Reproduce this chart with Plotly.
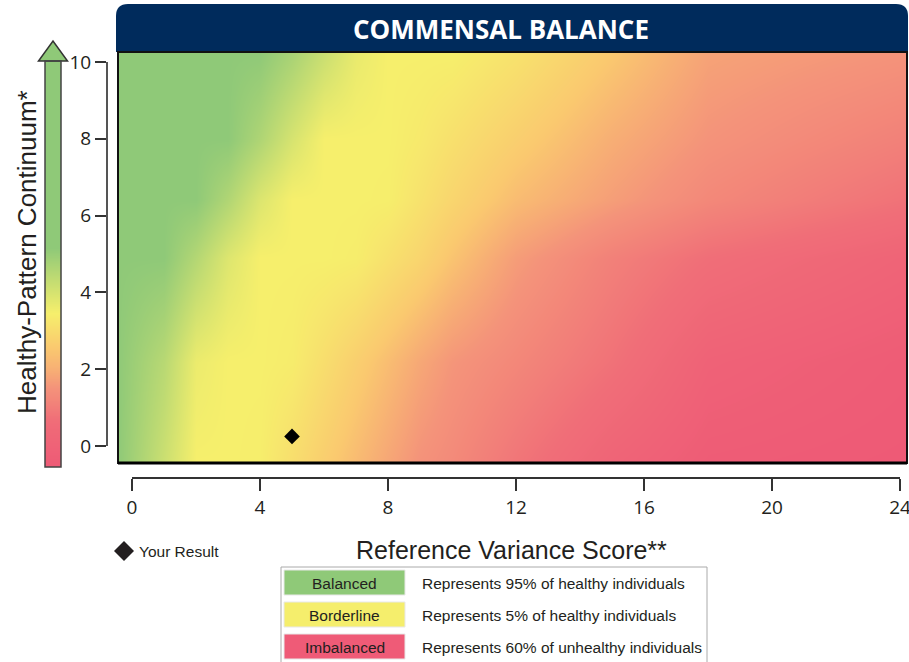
import plotly.graph_objects as go

# ---------------- data ----------------
# colour level of the background: 0 green, 1 yellow, 2 orange, 3 salmon, 4-5 pink
x_nodes = [-0.44, 1, 2, 3, 4, 5, 6, 7, 8, 9, 10, 12, 15, 18, 21, 24.2]
y_nodes = [-0.44, 2.2, 4.9, 6.4, 8.0, 10.26]
level_y_m044 = [0, 0.59, 1.0, 1.0, 1.04, 1.46, 1.88, 2.27, 2.65, 3.03, 3.25, 3.8, 4.5, 4.9, 4.95, 5.0]
level_y_22 = [0, 0.4, 0.9, 1.0, 1.0, 1.08, 1.46, 1.85, 2.23, 2.62, 2.95, 3.32, 3.9, 4.6, 4.75, 4.9]
level_y_49 = [0, 0, 0.36, 0.76, 1.0, 1.0, 1.0, 1.06, 1.38, 1.69, 2.1, 2.82, 3.5, 4.0, 4.25, 4.5]
level_y_64 = [0, 0, 0, 0.33, 0.75, 1.0, 1.0, 1.0, 1.03, 1.35, 1.68, 2.25, 2.8, 3.3, 3.6, 3.9]
level_y_80 = [0, 0, 0, 0, 0.31, 0.69, 1.0, 1.0, 1.0, 1.15, 1.4, 1.85, 2.5, 3.0, 3.25, 3.5]
level_y_1026 = [0, 0, 0, 0, 0, 0.24, 0.56, 0.87, 1.0, 1.0, 1.0, 1.33, 2.0, 2.7, 2.85, 3.0]

# gradient inside the vertical arrow (fraction of shaft height from bottom)
arrow_pos = [0, 0.1, 0.17, 0.24, 0.295, 0.38, 0.46, 0.54, 1.0]
arrow_level = [5, 4.2, 3.3, 2.5, 2.0, 1.0, 0.5, 0.0, 0.0]

result_x = [5]
result_y = [0.25]

x_ticks = [0, 4, 8, 12, 16, 20, 24]
y_ticks = [0, 2, 4, 6, 8, 10]

legend_labels = ["Balanced", "Borderline", "Imbalanced"]
legend_descriptions = [
    "Represents 95% of healthy individuals",
    "Represents 5% of healthy individuals",
    "Represents 60% of unhealthy individuals",
]

title_text = "COMMENSAL BALANCE"
x_title = "Reference Variance Score**"
y_title = "Healthy-Pattern Continuum*"
result_label = "Your Result"

# ---------------- styles / layout ----------------
W, H = 909, 662
GREEN, YELLOW, PINK = "#8FC978", "#F5EE6C", "#EF5B77"
legend_colors = [GREEN, YELLOW, PINK]
colorscale = [
    [0.0, GREEN], [0.2, "#F6EF6C"], [0.4, "#FAC96F"],
    [0.6, "#F4937A"], [0.8, "#F06E78"], [1.0, "#EE5A76"],
]


def px(x):
    return x / W


def py(y):
    return 1 - y / H


# pixel geometry
X0_PX, UNIT_X = 132.0, 32.0      # x=0 at 132 px, 32 px per unit
Y0_PX, UNIT_Y = 446.0, 38.4      # y=0 at 446 px, 38.4 px per unit
HM_L, HM_R, HM_T, HM_B = 118, 907, 52, 463

z = [level_y_m044, level_y_22, level_y_49, level_y_64, level_y_80, level_y_1026]

fig = go.Figure()
fig.add_trace(go.Heatmap(
    x=x_nodes, y=y_nodes, z=z, zmin=0, zmax=5, colorscale=colorscale,
    zsmooth="best", showscale=False, hoverinfo="skip", xaxis="x", yaxis="y",
))
fig.add_trace(go.Heatmap(
    x=[0, 1], y=arrow_pos, z=[[v, v] for v in arrow_level], zmin=0, zmax=5,
    colorscale=colorscale, zsmooth="best", showscale=False, hoverinfo="skip",
    xaxis="x3", yaxis="y3",
))
fig.add_trace(go.Scatter(
    x=result_x, y=result_y, mode="markers", xaxis="x2", yaxis="y2",
    marker=dict(symbol="diamond", size=12, color="#000000"),
    showlegend=False, hoverinfo="skip", cliponaxis=False,
))

tick_font = dict(family="Open Sans", size=19, color="#231F20")
axis_col = "#333333"

fig.update_layout(
    width=W, height=H, margin=dict(l=0, r=0, t=0, b=0, autoexpand=False),
    paper_bgcolor="white", plot_bgcolor="rgba(0,0,0,0)", showlegend=False,
    xaxis=dict(domain=[px(HM_L), px(HM_R)],
               range=[(HM_L - X0_PX) / UNIT_X, (HM_R - X0_PX) / UNIT_X],
               visible=False, fixedrange=True, automargin=False),
    yaxis=dict(domain=[py(HM_B), py(HM_T)],
               range=[(Y0_PX - HM_B) / UNIT_Y, (Y0_PX - HM_T) / UNIT_Y],
               visible=False, fixedrange=True, automargin=False),
    xaxis2=dict(domain=[px(X0_PX), px(X0_PX + 24 * UNIT_X)], range=[0, 24],
                anchor="free", position=py(478), side="bottom",
                showline=True, linecolor=axis_col, linewidth=2,
                ticks="outside", ticklen=12, tickwidth=2, tickcolor=axis_col,
                tickvals=x_ticks, ticktext=[str(t) for t in x_ticks],
                tickfont=tick_font, showgrid=False, zeroline=False,
                ticklabeloverflow="allow",
                automargin=False, fixedrange=True),
    yaxis2=dict(domain=[py(Y0_PX), py(Y0_PX - 10 * UNIT_Y)], range=[0, 10],
                anchor="free", position=px(107), side="left",
                showline=True, linecolor="#555555", linewidth=2,
                ticks="outside", ticklen=11, tickwidth=2, tickcolor=axis_col,
                tickvals=y_ticks, ticktext=[str(t) for t in y_ticks],
                tickfont=tick_font, showgrid=False, zeroline=False,
                ticklabeloverflow="allow",
                automargin=False, fixedrange=True),
    xaxis3=dict(domain=[px(45), px(61)], range=[0, 1], visible=False,
                anchor="y3", fixedrange=True, automargin=False),
    yaxis3=dict(domain=[py(467), py(61)], range=[0, 1], visible=False,
                anchor="x3", fixedrange=True, automargin=False),
)

shapes = []
# title banner with rounded top corners
r = 12
shapes.append(dict(
    type="path", xref="paper", yref="paper",
    path=(f"M {px(116)},{py(52)} L {px(116)},{py(4 + r)} "
          f"Q {px(116)},{py(4)} {px(116 + r)},{py(4)} "
          f"L {px(908 - r)},{py(4)} Q {px(908)},{py(4)} {px(908)},{py(4 + r)} "
          f"L {px(908)},{py(52)} Z"),
    fillcolor="#002B5C", line=dict(width=0),
))
# plot border
shapes.append(dict(type="rect", xref="paper", yref="paper",
                   x0=px(HM_L), x1=px(HM_R), y0=py(HM_B), y1=py(HM_T),
                   line=dict(color="#111111", width=2)))
shapes.append(dict(type="line", xref="paper", yref="paper",
                   x0=px(HM_L), x1=px(HM_R), y0=py(HM_B), y1=py(HM_B),
                   line=dict(color="#000000", width=3)))
# arrow head and shaft outline
shapes.append(dict(
    type="path", xref="paper", yref="paper",
    path=(f"M {px(45)},{py(61)} L {px(38.5)},{py(61)} L {px(53)},{py(41)} "
          f"L {px(67.5)},{py(61)} L {px(61)},{py(61)} Z"),
    fillcolor=GREEN, line=dict(color="#333333", width=1.5),
))
shapes.append(dict(type="rect", xref="paper", yref="paper",
                   x0=px(45), x1=px(61), y0=py(467), y1=py(61),
                   line=dict(color="#444444", width=1.5)))
# legend key diamond
cx, cy, d = 124, 551, 10
shapes.append(dict(
    type="path", xref="paper", yref="paper",
    path=(f"M {px(cx - d)},{py(cy)} L {px(cx)},{py(cy - d)} "
          f"L {px(cx + d)},{py(cy)} L {px(cx)},{py(cy + d)} Z"),
    fillcolor="#231F20", line=dict(width=0),
))
# legend table
shapes.append(dict(type="rect", xref="paper", yref="paper",
                   x0=px(281), x1=px(707), y0=py(670), y1=py(567),
                   line=dict(color="#AAAAAA", width=1)))
row_tops = [570, 602, 634]
for top, col in zip(row_tops, legend_colors):
    shapes.append(dict(type="rect", xref="paper", yref="paper",
                       x0=px(284), x1=px(405), y0=py(top + 25), y1=py(top),
                       fillcolor=col, line=dict(color="#E8E8E8", width=1)))
fig.update_layout(shapes=shapes)

label_font = dict(family="Liberation Sans", size=15.5, color="#231F20")
ann = [
    dict(text=f"<b>{title_text}</b>", x=px(501), y=py(29), xref="paper", yref="paper",
         showarrow=False, font=dict(family="Open Sans", size=26, color="white"),
         xanchor="center", yanchor="middle"),
    dict(text=y_title, x=px(27), y=py(252), xref="paper", yref="paper",
         showarrow=False, textangle=-90,
         font=dict(family="Liberation Sans", size=26, color="#231F20"),
         xanchor="center", yanchor="middle"),
    dict(text=x_title, x=px(511), y=py(550), xref="paper", yref="paper",
         showarrow=False, font=dict(family="Liberation Sans", size=25, color="#231F20"),
         xanchor="center", yanchor="middle"),
    dict(text=result_label, x=px(137), y=py(551), xref="paper", yref="paper",
         showarrow=False, font=label_font, xanchor="left", yanchor="middle"),
]
for top, lab, desc in zip(row_tops, legend_labels, legend_descriptions):
    ann.append(dict(text=lab, x=px(344.5), y=py(top + 13), xref="paper", yref="paper",
                    showarrow=False, font=label_font, xanchor="center", yanchor="middle"))
    ann.append(dict(text=desc, x=px(420), y=py(top + 13), xref="paper", yref="paper",
                    showarrow=False, font=label_font, xanchor="left", yanchor="middle"))
fig.update_layout(annotations=ann)

fig.write_html(
    "out.html",
    config={"displayModeBar": False},
    post_script="document.body.style.margin='0px';document.body.style.overflow='hidden';",
)
